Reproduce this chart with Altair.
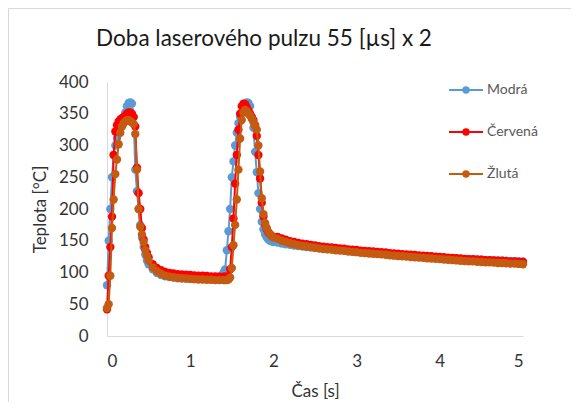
import altair as alt
import pandas as pd

# time axis [s]
time_s = (
    [0.00, 0.02, 0.04, 0.06, 0.08, 0.10, 0.12, 0.14, 0.16, 0.18, 0.20, 0.22, 0.24,
     0.26, 0.28, 0.30, 0.32, 0.34, 0.36, 0.38, 0.40, 0.42, 0.44, 0.46, 0.48, 0.50]
    + [0.55, 0.60, 0.65, 0.70, 0.75, 0.80, 0.85, 0.90, 0.95, 1.00, 1.05, 1.10, 1.15,
       1.20, 1.25, 1.30, 1.35, 1.40]
    + [1.42, 1.44, 1.46, 1.48, 1.50, 1.52, 1.54, 1.56, 1.58, 1.60, 1.62, 1.64, 1.66,
       1.68, 1.70, 1.72, 1.74, 1.76, 1.78, 1.80, 1.82, 1.84, 1.86, 1.88, 1.90, 1.92,
       1.94, 1.96, 1.98, 2.00]
    + [2.05, 2.10, 2.15, 2.20, 2.25, 2.30, 2.35, 2.40, 2.45, 2.50,
       2.55, 2.60, 2.65, 2.70, 2.75, 2.80, 2.85, 2.90, 2.95, 3.00,
       3.05, 3.10, 3.15, 3.20, 3.25, 3.30, 3.35, 3.40, 3.45, 3.50,
       3.55, 3.60, 3.65, 3.70, 3.75, 3.80, 3.85, 3.90, 3.95, 4.00,
       4.05, 4.10, 4.15, 4.20, 4.25, 4.30, 4.35, 4.40, 4.45, 4.50,
       4.55, 4.60, 4.65, 4.70, 4.75, 4.80, 4.85, 4.90, 4.95, 5.00]
)

modra = (
    [80, 150, 200, 250, 285, 300, 312, 322, 330, 338, 345, 352, 362, 367, 368,
     366, 345, 262, 228, 200, 175, 155, 140, 128, 119, 113]
    + [105, 99, 96, 94, 93, 92, 91, 91, 90.5, 90, 90, 90, 90, 90, 90.5, 91, 94, 100]
    + [105, 135, 165, 200, 250, 275, 300, 320, 335, 345, 352, 360, 366, 368, 367,
       362, 345, 328, 290, 258, 225, 200, 180, 168, 160, 155, 152, 150, 149, 148]
    + [147, 145.5, 144.5, 143.5, 142.5, 141.5, 141, 140, 139.5, 139,
       138, 137.5, 137, 136.5, 136, 135.5, 135, 134, 133.5, 133,
       132.5, 132, 131.5, 131, 130.5, 130, 129.5, 129, 128.5, 128,
       127.5, 127, 126.5, 126, 125.5, 125, 124.5, 124.5, 124, 123.5,
       123, 122.5, 122, 122, 121.5, 121, 121, 120.5, 120, 120,
       119.5, 119.5, 119, 119, 118.5, 118.5, 118, 118, 117.5, 117.5]
)

cervena = (
    [42, 95, 140, 188, 285, 322, 332, 338, 341, 343, 345, 347, 350, 352, 352,
     350, 345, 330, 265, 225, 200, 170, 152, 140, 131, 124]
    + [113, 107, 103.5, 101, 99.5, 98.5, 97.5, 97, 96.5, 96, 95.5, 95, 95, 94.5,
       94, 94, 93.5, 93.5]
    + [93.5, 93.5, 94, 105, 140, 185, 240, 285, 325, 350, 362, 366, 365, 360, 355,
       350, 345, 340, 332, 315, 285, 248, 210, 188, 176, 168, 163, 160, 158, 156]
    + [156, 153.5, 151.5, 149.5, 148, 146.5, 145.5, 144.5, 143.5, 142.5,
       141.5, 140.5, 140, 139.5, 138.5, 138, 137.5, 136.5, 136, 135.5,
       134.5, 134, 133.5, 133, 132.5, 132, 131.5, 130.5, 130, 129.5,
       129, 128.5, 128, 127.5, 127, 126.5, 126, 125.5, 125, 124.5,
       124, 123.5, 123, 122.5, 122, 121.5, 121, 121, 120.5, 120,
       119.5, 119.5, 119, 118.5, 118.5, 118, 117.5, 117.5, 117, 116.5]
)

zluta = (
    [44, 50, 95, 170, 215, 255, 278, 302, 320, 330, 335, 338, 340, 340, 338,
     336, 334, 318, 262, 200, 172, 160, 148, 135, 126, 119]
    + [108, 102, 98, 95, 93.5, 92.5, 91.5, 91, 90.5, 90, 89.5, 89, 89, 88.5,
       88.5, 88, 88, 88]
    + [88, 88, 89, 92, 107, 143, 175, 215, 262, 311, 340, 352, 356, 354, 350,
       347, 342, 337, 331, 325, 300, 259, 217, 192, 178, 170, 164, 160, 157, 155]
    + [153, 150, 148, 146, 144.5, 143, 142, 141, 140, 139,
       138, 137, 136.5, 136, 135, 134.5, 134, 133, 132.5, 132,
       131, 130.5, 130, 129.5, 129, 128.5, 128, 127, 126.5, 126,
       125.5, 125, 124.5, 124, 123.5, 123, 122.5, 122, 121.5, 121,
       120.5, 120, 119.5, 119, 118.5, 118, 117.5, 117.5, 117, 116.5,
       116, 116, 115.5, 115, 115, 114.5, 114, 114, 113.5, 113]
)

names = ["Modrá", "Červená", "Žlutá"]
colors = ["#5B9BD5", "#FF0000", "#C55A11"]
x_ticks = [0, 1, 2, 3, 4, 5]
y_ticks = [0, 50, 100, 150, 200, 250, 300, 350, 400]
title_text = "Doba laserového pulzu 55 [µs] x 2"

df = pd.DataFrame({
    "t": time_s * 3,
    "T": modra + cervena + zluta,
    "s": [n for n in names for _ in time_s],
})

FONT = "Lato"
W, H = 416, 254
PL, PT = 99, 74

x_enc = alt.X("t:Q", scale=alt.Scale(domain=[0, 5], nice=False),
              axis=alt.Axis(values=x_ticks, title="Čas [s]", format="d",
                            grid=False, ticks=False, tickSize=0, domainColor="#d9d9d9",
                            labelPadding=17, labelFontSize=17, labelColor="#333333",
                            labelFont=FONT, titleFont=FONT, titleFontSize=17,
                            titleFontWeight="normal", titleColor="#333333",
                            titlePadding=14))
y_enc = alt.Y("T:Q", scale=alt.Scale(domain=[0, 400], nice=False),
              axis=alt.Axis(values=y_ticks, title="Teplota [°C]",
                            grid=False, ticks=False, tickSize=0, domainColor="#d9d9d9",
                            labelPadding=19, labelFontSize=17, labelColor="#333333",
                            labelFont=FONT, titleFont=FONT, titleFontSize=17,
                            titleFontWeight="normal", titleColor="#333333",
                            titlePadding=9))
c_enc = alt.Color("s:N", scale=alt.Scale(domain=names, range=colors), legend=None)

layers = []
# outer frame
layers.append(
    alt.Chart(pd.DataFrame({"a": [0]})).mark_rect(fill="transparent", stroke="#d9d9d9",
                                                 strokeWidth=1).encode(
        x=alt.value(-PL + 0.5), y=alt.value(-PT + 0.5),
        x2=alt.value(700), y2=alt.value(600))
)
# chart title
layers.append(
    alt.Chart(pd.DataFrame({"title": [title_text]})).mark_text(
        align="center", baseline="middle", font=FONT, fontSize=22.5, color="#1a1a1a").encode(
        x=alt.value(264 - 8 - PL), y=alt.value(39 - 8 - PT), text="title:N")
)
for n in names:
    base = alt.Chart(df).transform_filter(alt.datum.s == n)
    layers.append(base.mark_line(strokeWidth=2).encode(x=x_enc, y=y_enc, color=c_enc))
    layers.append(base.mark_circle(size=70, opacity=1).encode(x=x_enc, y=y_enc, color=c_enc))

# legend
leg_y = [90, 132, 174]
for i, n in enumerate(names):
    ld = alt.Chart(pd.DataFrame({"s": [n]}))
    yy = leg_y[i] - 8 - PT
    layers.append(ld.mark_rule(strokeWidth=2, color=colors[i]).encode(
        x=alt.value(449 - 8 - PL), x2=alt.value(483 - 8 - PL), y=alt.value(yy)))
    layers.append(ld.mark_circle(size=55, opacity=1, color=colors[i]).encode(
        x=alt.value(466 - 8 - PL), y=alt.value(yy)))
    layers.append(ld.mark_text(align="left", baseline="middle", font=FONT, fontSize=14,
                               color="#595959").encode(
        x=alt.value(487 - 8 - PL), y=alt.value(yy), text="s:N"))

chart = alt.layer(*layers).properties(
    width=W, height=H,
    autosize=alt.AutoSizeParams(type="none"),
    padding={"left": PL, "top": PT, "right": 48, "bottom": 66},
).configure_view(stroke=None)

chart.save("out.html", embed_options={"renderer": "svg", "actions": False})
